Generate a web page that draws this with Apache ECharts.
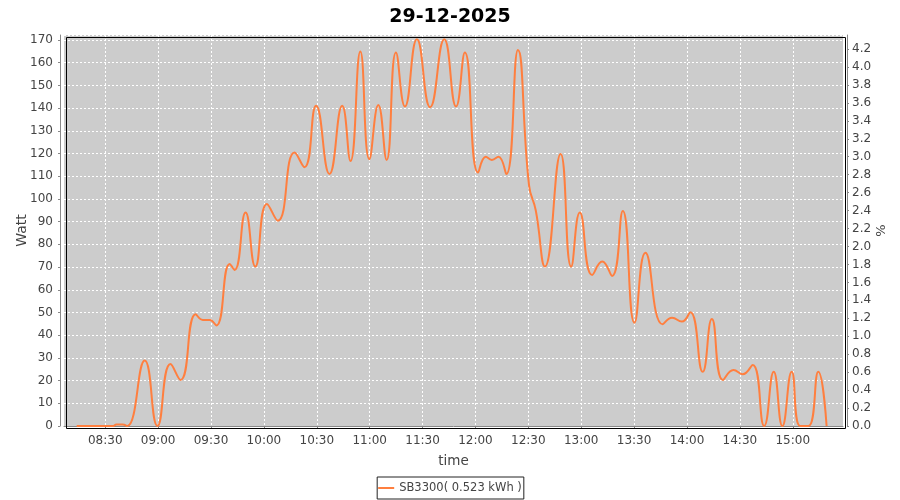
<!DOCTYPE html>
<html><head><meta charset="utf-8">
<script src="https://cdn.jsdelivr.net/npm/echarts@6/dist/echarts.min.js"></script>
<style>html,body{margin:0;padding:0;background:#fff}#c{width:900px;height:500px}</style>
</head><body><div id="c"></div>
<script>
const chartTitle = '29-12-2025';
const seriesName = 'SB3300( 0.523 kWh )';
const xName = 'time';
const yLeftName = 'Watt';
const yRightName = '%';
const xRange = ['08:06:36', '15:28:30'];
const xTickLabels = ['08:30','09:00','09:30','10:00','10:30','11:00','11:30','12:00','12:30','13:00','13:30','14:00','14:30','15:00'];
const yLeftRange = [0, 172.2];
const yRightRange = [0, 4.356];

const times = [
  '08:13:48','08:29:48','08:34:18','08:36:24','08:39:48','08:42:30','08:52:24','08:59:36',
  '09:07:00','09:12:42','09:21:18','09:25:24','09:29:12','09:33:00','09:40:36','09:43:24',
  '09:49:36','09:55:06','10:01:42','10:07:54','10:17:24','10:23:00','10:29:36','10:37:12',
  '10:44:24','10:49:06','10:54:42','10:59:48','11:04:54','11:09:36','11:14:54','11:20:00',
  '11:26:48','11:34:18','11:42:18','11:49:00','11:54:00','12:01:30','12:05:54','12:09:18',
  '12:13:00','12:17:30','12:24:06','12:30:24','12:34:12','12:39:24','12:48:18','12:54:18',
  '12:59:12','13:06:12','13:11:54','13:17:30','13:23:36','13:30:12','13:36:24','13:46:12',
  '13:51:30','13:57:06','14:01:54','14:08:54','14:14:06','14:20:24','14:26:24','14:31:30',
  '14:37:18','14:43:48','14:49:12','14:54:06','14:59:24','15:04:12','15:08:54','15:14:30',
  '15:19:12'
];
const watts = [
  0,0,0,0.7,0.7,0,28.8,0,
  27.3,20.3,49.2,46.7,46.7,44.3,71.4,68.7,
  94,70.2,97.8,90.4,120.4,114,141,111,
  141,116.7,164.9,117.5,141.4,117.2,164.5,140.7,
  170.3,140.4,170.3,140.7,164.5,111.6,118.6,117.2,
  118.6,111,165.6,106,95,70.2,119.8,70.2,
  94,66.5,72.4,66.1,94.7,45.5,76.3,44.8,
  47.7,46,50.1,23.9,47.1,20.3,24.7,22.8,
  26.9,0,23.9,0,23.9,0,0,23.9,
  0
];

// minutes since midnight
function toMin(s) {
  const p = s.split(':').map(Number);
  return p[0] * 60 + p[1] + (p[2] || 0) / 60;
}
function pad(n) { return (n < 10 ? '0' : '') + n; }
function fmt(v) { const m = Math.round(v); return pad(Math.floor(m / 60)) + ':' + pad(m % 60); }

const seriesData = times.map((t, i) => [toMin(t), watts[i]]);
const xTickValues = xTickLabels.map(toMin);

const font = 'DejaVu Sans';
const labelColor = '#444444';
const axisColor = '#888888';
const gridLine = { color: '#ffffff', width: 1, type: [2, 2] };

const chart = echarts.init(document.getElementById('c'), null, { renderer: 'canvas' });
chart.setOption({
  animation: false,
  backgroundColor: '#ffffff',
  title: {
    text: chartTitle, left: 'center', top: 3,
    textStyle: { fontFamily: font, fontSize: 19, fontWeight: 'bold', color: '#000' }
  },
  grid: {
    left: 64, right: 57, top: 35, bottom: 74, show: true,
    backgroundColor: '#cccccc', borderWidth: 0,
    containLabel: false, outerBoundsMode: 'none'
  },
  legend: {
    data: [seriesName], left: 'center', top: 477,
    borderColor: '#222', borderWidth: 1, padding: [5, 2, 5, 1],
    icon: 'rect', itemWidth: 16, itemHeight: 2, itemGap: 4,
    textStyle: { fontFamily: font, fontSize: 11.5, color: labelColor }
  },
  xAxis: {
    type: 'value', min: toMin(xRange[0]), max: toMin(xRange[1]),
    offset: 4,
    name: xName, nameLocation: 'middle', nameGap: 24, nameMoveOverlap: false,
    nameTextStyle: { fontFamily: font, fontSize: 13.5, color: labelColor },
    axisLine: { show: true, lineStyle: { color: axisColor, width: 1 } },
    axisTick: { show: true, length: 2, lineStyle: { color: axisColor }, customValues: xTickValues },
    axisLabel: {
      fontFamily: font, fontSize: 12, color: labelColor, margin: 5,
      customValues: xTickValues, formatter: fmt
    },
    splitLine: { show: true, lineStyle: gridLine, customValues: xTickValues }
  },
  yAxis: [{
    type: 'value', min: yLeftRange[0], max: yLeftRange[1], interval: 10,
    position: 'left', offset: 4,
    name: yLeftName, nameLocation: 'middle', nameGap: 31, nameRotate: 90, nameMoveOverlap: false,
    nameTextStyle: { fontFamily: font, fontSize: 14, color: labelColor },
    axisLine: { show: true, lineStyle: { color: axisColor, width: 1 } },
    axisTick: { show: true, length: 2, lineStyle: { color: axisColor } },
    axisLabel: { fontFamily: font, fontSize: 12, color: labelColor, margin: 7, showMaxLabel: false },
    splitLine: { show: true, lineStyle: gridLine }
  }, {
    type: 'value', min: yRightRange[0], max: yRightRange[1], interval: 0.2,
    position: 'right', offset: 4,
    name: yRightName, nameLocation: 'middle', nameGap: 28, nameRotate: 90, nameMoveOverlap: false,
    nameTextStyle: { fontFamily: font, fontSize: 13, color: labelColor },
    axisLine: { show: true, lineStyle: { color: axisColor, width: 1 } },
    axisTick: { show: true, length: 2, lineStyle: { color: axisColor } },
    axisLabel: {
      fontFamily: font, fontSize: 12, color: labelColor, margin: 5, showMaxLabel: false,
      formatter: function (v) { return v.toFixed(1); }
    },
    splitLine: { show: false }
  }],
  series: [{
    name: seriesName, type: 'line', yAxisIndex: 0,
    data: seriesData, smooth: 0.5, symbol: 'none',
    lineStyle: { color: '#ff7f3f', width: 2 },
    itemStyle: { color: '#ff7f3f' },
    clip: true
  }],
  graphic: [{
    type: 'rect', left: 64, top: 35, z: 100, silent: true,
    shape: { width: 779, height: 391 },
    style: { fill: 'none', stroke: '#000', lineWidth: 1 }
  }]
});
</script>
</body></html>
